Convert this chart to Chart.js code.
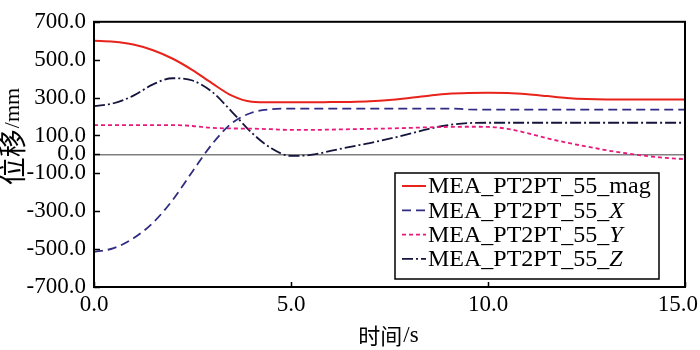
<!DOCTYPE html>
<html>
<head>
<meta charset="utf-8">
<script src="https://cdn.jsdelivr.net/npm/chart.js@4.4.0/dist/chart.umd.min.js"></script>
<style>
  html, body { margin: 0; padding: 0; background: #fff; }
  #wrap { width: 700px; height: 350px; }
</style>
</head>
<body>
<div id="wrap"><canvas id="chart" width="700" height="350"></canvas></div>
<script>
// Time axis (s)
const timeS = [0, 0.5, 1, 1.5, 2, 2.5, 3, 3.5, 4, 4.5, 5, 5.5, 6, 6.5, 7, 7.5,
               8, 8.5, 9, 9.5, 10, 10.5, 11, 11.5, 12, 12.5, 13, 13.5, 14, 14.5, 15];

// Displacement (mm)
const magVals = [600, 595, 580, 550, 505, 445, 375, 310, 278, 275, 275, 275, 276, 277, 280, 287,
                 298, 310, 320, 324, 325, 324, 318, 308, 298, 292, 290, 290, 290, 290, 290];
const xVals = [-515, -495, -443, -360, -240, -90, 55, 165, 220, 238, 242, 242, 242, 242, 242, 242,
               242, 242, 242, 238, 236, 236, 236, 236, 236, 236, 236, 236, 236, 236, 236];
const yVals = [155, 155, 155, 155, 155, 150, 140, 137, 136, 133, 129, 129, 131, 133, 135, 137,
               140, 143, 145, 146, 145, 135, 112, 85, 62, 42, 22, 6, -8, -18, -25];
const zVals = [255, 270, 310, 370, 402, 390, 330, 225, 115, 32, -8, -3, 18, 40, 60, 83,
               108, 135, 155, 165, 167, 167, 167, 167, 167, 167, 167, 167, 167, 167, 167];

const yTicks = [700, 500, 300, 100, 0, -100, -300, -500, -700];
const xTicks = [0, 5, 10, 15];

const seriesBase = 'MEA_PT2PT_55_';
const seriesSuffix = ['mag', 'X', 'Y', 'Z'];

const FONT = "'Liberation Serif', 'Times New Roman', 'Noto Sans CJK SC', serif";
const CJK = "'Noto Sans CJK SC', sans-serif";

function toPoints(vals) {
    return vals.map((v, i) => ({ x: timeS[i], y: v }));
}

// Frame, inward ticks, x labels, titles and legend
const decorPlugin = {
    id: 'decor',
    afterDraw(chart) {
        const ctx = chart.ctx;
        const a = chart.chartArea;
        const xs = chart.scales.x;
        const ys = chart.scales.y;
        ctx.save();

        // inward tick marks
        ctx.strokeStyle = '#000';
        ctx.lineWidth = 1.5;
        ctx.beginPath();
        yTicks.forEach(v => {
            const py = Math.round(ys.getPixelForValue(v)) + 0.5;
            ctx.moveTo(a.left, py);
            ctx.lineTo(a.left + 6, py);
        });
        xTicks.forEach(v => {
            const px = Math.round(xs.getPixelForValue(v)) + 0.5;
            ctx.moveTo(px, a.bottom);
            ctx.lineTo(px, a.bottom - 5);
        });
        ctx.stroke();

        // frame
        ctx.lineWidth = 2;
        ctx.strokeRect(a.left, a.top, a.right - a.left, a.bottom - a.top);

        // x tick labels
        ctx.fillStyle = '#000';
        ctx.font = '23px ' + FONT;
        ctx.textBaseline = 'middle';
        ctx.textAlign = 'left';
        xTicks.forEach(v => {
            const txt = v.toFixed(1);
            const w = ctx.measureText(txt).width;
            let left = xs.getPixelForValue(v) - w / 2;
            if (left + w > 698) left = 698 - w;
            ctx.fillText(txt, left, 305);
        });

        // x title
        ctx.font = '22px ' + CJK;
        const xa = '时间';
        const wa = ctx.measureText(xa).width;
        ctx.font = '23px ' + FONT;
        const xb = '/s';
        const wb = ctx.measureText(xb).width;
        let sx = 388 - (wa + wb) / 2;
        ctx.font = '22px ' + CJK;
        ctx.fillText(xa, sx, 336);
        ctx.font = '23px ' + FONT;
        ctx.fillText(xb, sx + wa + 1, 336);

        // y title (rotated)
        ctx.save();
        ctx.translate(12, 137);
        ctx.rotate(-Math.PI / 2);
        ctx.font = '28px ' + CJK;
        const ya = '位移';
        const wya = ctx.measureText(ya).width;
        ctx.font = '22px ' + FONT;
        const yb = '/mm';
        const wyb = ctx.measureText(yb).width;
        let sy = -(wya + wyb) / 2;
        ctx.font = '28px ' + CJK;
        ctx.fillText(ya, sy, 0);
        ctx.font = '22px ' + FONT;
        ctx.fillText(yb, sy + wya + 1, 1);
        ctx.restore();

        // legend
        const bx = 395, by = 173, bw = 264, bh = 106;
        ctx.fillStyle = '#fff';
        ctx.fillRect(bx, by, bw, bh);
        ctx.strokeStyle = '#000';
        ctx.lineWidth = 1.5;
        ctx.strokeRect(bx, by, bw, bh);
        chart.data.datasets.forEach((ds, i) => {
            const cy = 187 + i * 24.3;
            ctx.strokeStyle = ds.borderColor;
            ctx.lineWidth = ds.borderWidth;
            ctx.setLineDash(ds.borderDash || []);
            ctx.beginPath();
            ctx.moveTo(402, cy - 1);
            ctx.lineTo(426, cy - 1);
            ctx.stroke();
            ctx.setLineDash([]);
            ctx.fillStyle = '#000';
            ctx.textAlign = 'left';
            ctx.font = '24px ' + FONT;
            ctx.fillText(seriesBase, 428, cy);
            const w = ctx.measureText(seriesBase).width;
            ctx.font = (i === 0 ? '' : 'italic ') + '24px ' + FONT;
            ctx.fillText(seriesSuffix[i], 428 + w, cy);
        });

        ctx.restore();
    }
};

function buildChart() {
    new Chart(document.getElementById('chart'), {
        type: 'line',
        data: {
            datasets: [
                {
                    label: 'MEA_PT2PT_55_mag',
                    data: toPoints(magVals),
                    borderColor: '#e8231c',
                    borderWidth: 2
                },
                {
                    label: 'MEA_PT2PT_55_X',
                    data: toPoints(xVals),
                    borderColor: '#2f2c82',
                    borderWidth: 1.8,
                    borderDash: [9, 5]
                },
                {
                    label: 'MEA_PT2PT_55_Y',
                    data: toPoints(yVals),
                    borderColor: '#e8197c',
                    borderWidth: 1.8,
                    borderDash: [4, 3]
                },
                {
                    label: 'MEA_PT2PT_55_Z',
                    data: toPoints(zVals),
                    borderColor: '#14143c',
                    borderWidth: 1.8,
                    borderDash: [11, 3, 2, 3]
                }
            ]
        },
        options: {
            responsive: false,
            animation: false,
            layout: { padding: { top: 13, right: 15, left: 0, bottom: 0 } },
            elements: {
                point: { radius: 0 },
                line: { cubicInterpolationMode: 'monotone', fill: false }
            },
            plugins: {
                legend: { display: false },
                tooltip: { enabled: false }
            },
            scales: {
                x: {
                    type: 'linear',
                    min: 0,
                    max: 15,
                    afterBuildTicks: s => { s.ticks = xTicks.map(v => ({ value: v })); },
                    afterFit: s => { s.height = 63; },
                    ticks: { display: false },
                    grid: { display: false },
                    border: { display: false }
                },
                y: {
                    min: -700,
                    max: 700,
                    afterBuildTicks: s => { s.ticks = yTicks.map(v => ({ value: v })); },
                    afterFit: s => { s.width = 94; },
                    ticks: {
                        color: '#000',
                        padding: 8,
                        font: { family: FONT, size: 23 },
                        callback: v => v.toFixed(1)
                    },
                    grid: {
                        drawTicks: false,
                        lineWidth: 1.5,
                        color: c => (c.tick && c.tick.value === 0) ? '#808080' : 'rgba(0,0,0,0)'
                    },
                    border: { display: false }
                }
            }
        },
        plugins: [decorPlugin]
    });
}

// make sure the faces are ready before drawing on canvas
Promise.all([
    document.fonts.load("23px 'Liberation Serif'"),
    document.fonts.load("italic 23px 'Liberation Serif'"),
    document.fonts.load("23px 'Noto Sans CJK SC'", '时间位移')
]).catch(() => {}).then(buildChart);
</script>
</body>
</html>
